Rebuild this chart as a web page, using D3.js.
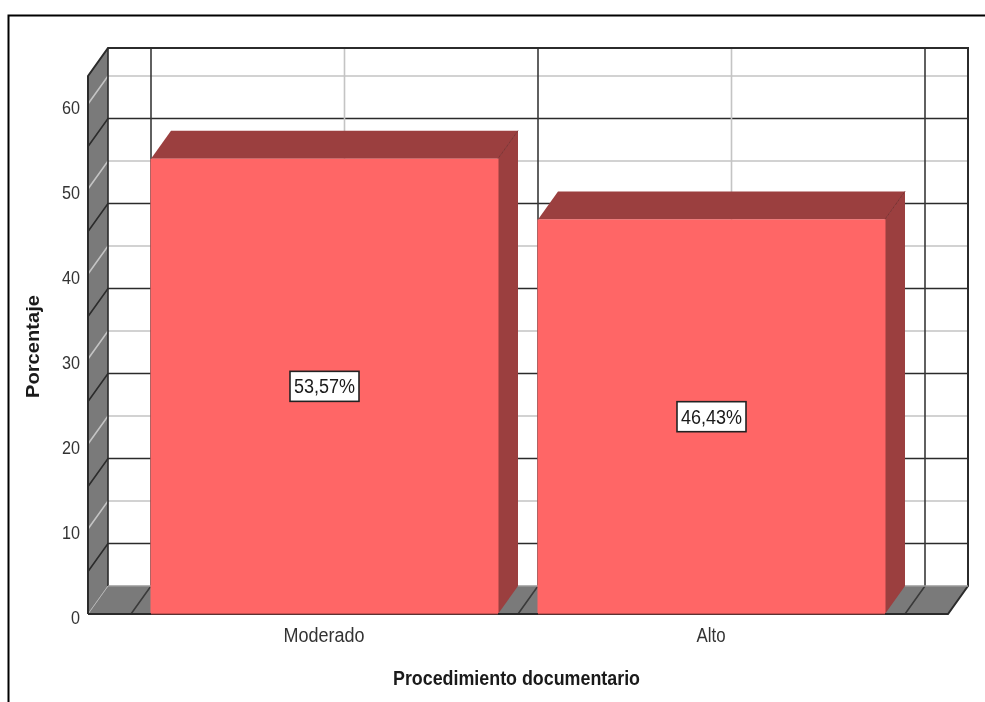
<!DOCTYPE html>
<html><head><meta charset="utf-8">
<script src="https://cdn.jsdelivr.net/npm/d3@7/dist/d3.min.js"></script>
<style>html,body{margin:0;padding:0;background:#fff}svg{display:block;filter:blur(0.4px)}text{font-family:"Liberation Sans",Arial,sans-serif;fill:#1a1a1a}</style>
</head><body><svg id="c" width="985" height="702"></svg>
<script>
const categories = ["Moderado","Alto"];
const values = [53.57,46.43];
const valueLabels = ["53,57%","46,43%"];
const categoryLabelWidths = [81,29];
const tickValues = [0,10,20,30,40,50,60];
const majorGrid = [5,15,25,35,45,55];
const minorGrid = [10,20,30,40,50,60];
const axisMax = 63.3;
const xTitle = "Procedimiento documentario";
const yTitle = "Porcentaje";

const depthX = 20, depthY = -28;
const y = d3.scaleLinear().domain([0,axisMax]).range([614,76]);
const x = d3.scaleBand().domain(categories).range([131,905]);
const left = 88, right = 948;
const svg = d3.select("#c");
const dark="#2b2b2b", light="#c4c4c4", wall="#7a7a7a";

// outer frame
svg.append("path").attr("d","M8.5,702V15.5H985").attr("fill","none").attr("stroke","#000").attr("stroke-width",2);

const g = svg.append("g");
// back wall
g.append("rect").attr("x",left+depthX).attr("y",y(axisMax)+depthY).attr("width",right-left).attr("height",y(0)-y(axisMax)).attr("fill","#fff");
// side wall
g.append("path").attr("d",`M${left},${y(0)}L${left},${y(axisMax)}L${left+depthX},${y(axisMax)+depthY}L${left+depthX},${y(0)+depthY}Z`).attr("fill",wall);
// floor
g.append("path").attr("d",`M${left},${y(0)}L${right},${y(0)}L${right+depthX},${y(0)+depthY}L${left+depthX},${y(0)+depthY}Z`).attr("fill",wall);

// gridlines on walls
function hgrid(vals,color,w){
  g.selectAll(null).data(vals).enter().append("path")
   .attr("d",v=>`M${left},${y(v)}L${left+depthX},${y(v)+depthY}L${right+depthX},${y(v)+depthY}`)
   .attr("fill","none").attr("stroke",color).attr("stroke-width",w);
}
hgrid(minorGrid,light,1.6);
hgrid(majorGrid,dark,1.6);
// light line at floor corner
g.append("path").attr("d",`M${left},${y(0)}L${left+depthX},${y(0)+depthY}`).attr("stroke","#b5b5b5").attr("stroke-width",1);

// verticals: category centres (light), category edges (dark)
const edges = [x(categories[0]), x(categories[1]), x(categories[1])+x.bandwidth()];
const centres = categories.map(c=>x(c)+x.bandwidth()/2);
function vgrid(pos,color){
  g.selectAll(null).data(pos).enter().append("path")
   .attr("d",p=>`M${p},${y(0)}L${p+depthX},${y(0)+depthY}L${p+depthX},${y(axisMax)+depthY}`)
   .attr("fill","none").attr("stroke",color).attr("stroke-width",1.6);
}
vgrid(centres,light);
vgrid(edges,"#3a3a3a");

// wall frame
g.append("path").attr("d",`M${left},${y(0)}L${left},${y(axisMax)}L${left+depthX},${y(axisMax)+depthY}L${right+depthX},${y(axisMax)+depthY}L${right+depthX},${y(0)+depthY}L${right},${y(0)}L${left},${y(0)}`)
 .attr("fill","none").attr("stroke",dark).attr("stroke-width",2);
g.append("path").attr("d",`M${left+depthX},${y(axisMax)+depthY}L${left+depthX},${y(0)+depthY}`)
 .attr("fill","none").attr("stroke",dark).attr("stroke-width",1.6);
g.append("path").attr("d",`M${left+depthX},${y(0)+depthY}L${right+depthX},${y(0)+depthY}`).attr("fill","none").attr("stroke","#9a9a9a").attr("stroke-width",1.4);

// bars
const bars = g.selectAll(null).data(categories).enter().append("g");
const bx = c=>x(c)+depthX, bw = x.bandwidth()-40;
const val = (c)=>values[categories.indexOf(c)];
bars.append("path").attr("d",c=>`M${bx(c)},${y(val(c))}L${bx(c)+depthX},${y(val(c))+depthY}L${bx(c)+bw+depthX},${y(val(c))+depthY}L${bx(c)+bw},${y(val(c))}Z`)
  .attr("fill","#9b3f3f");
bars.append("path").attr("d",c=>`M${bx(c)+bw},${y(val(c))}L${bx(c)+bw+depthX},${y(val(c))+depthY}L${bx(c)+bw+depthX},${y(0)+depthY}L${bx(c)+bw},${y(0)}Z`)
  .attr("fill","#9b3f3f");
bars.append("path").attr("d",c=>`M${bx(c)+bw},${y(val(c))}L${bx(c)+bw+depthX},${y(val(c))+depthY}`).attr("stroke","#7d3232").attr("stroke-width",1);
bars.append("rect").attr("x",c=>bx(c)-0.5).attr("y",c=>y(val(c))).attr("width",bw+1).attr("height",c=>y(0)-y(val(c))).attr("fill","#ff6666");
bars.append("path").attr("d",c=>`M${bx(c)},${y(0)}H${bx(c)+bw}`).attr("stroke","#8f3a3a").attr("stroke-width",1);
g.append("path").attr("d",`M${left},${y(0)}H${bx(categories[0])}M${bx(categories[0])+bw},${y(0)}H${bx(categories[1])}M${bx(categories[1])+bw},${y(0)}H${right}`).attr("stroke",dark).attr("stroke-width",1.8);

// value labels
categories.forEach((c,i)=>{
  const cx = x(c)+x.bandwidth()/2, cy = y(values[i]/2);
  g.append("rect").attr("x",cx-34.5).attr("y",cy-15).attr("width",69).attr("height",30).attr("fill","#fff").attr("stroke","#222").attr("stroke-width",1.6);
  g.append("text").attr("x",cx).attr("y",cy+7).attr("text-anchor","middle").attr("font-size",20).attr("textLength",61).attr("lengthAdjust","spacingAndGlyphs").text(valueLabels[i]);
});

// tick labels
svg.selectAll(null).data(tickValues).enter().append("text")
 .attr("x",80).attr("y",v=>y(v)+9.5).attr("text-anchor","end").attr("font-size",18.5).attr("textLength",d=>d===0?9:18).attr("lengthAdjust","spacingAndGlyphs").style("fill","#333").text(d=>d);
svg.selectAll(null).data(categories).enter().append("text")
 .attr("x",c=>x(c)+x.bandwidth()/2-0.5).attr("y",642).attr("text-anchor","middle").attr("font-size",20).attr("textLength",(c,i)=>categoryLabelWidths[i]).attr("lengthAdjust","spacingAndGlyphs").style("fill","#333").text(c=>c);

// axis titles
svg.append("text").attr("x",516.5).attr("y",685).attr("text-anchor","middle").attr("font-size",20).attr("font-weight","bold").attr("textLength",247).attr("lengthAdjust","spacingAndGlyphs").text(xTitle);
svg.append("text").attr("transform","translate(38.5,346.5) rotate(-90)").attr("text-anchor","middle").attr("font-size",19).attr("font-weight","bold").attr("textLength",103).attr("lengthAdjust","spacingAndGlyphs").text(yTitle);
</script></body></html>
